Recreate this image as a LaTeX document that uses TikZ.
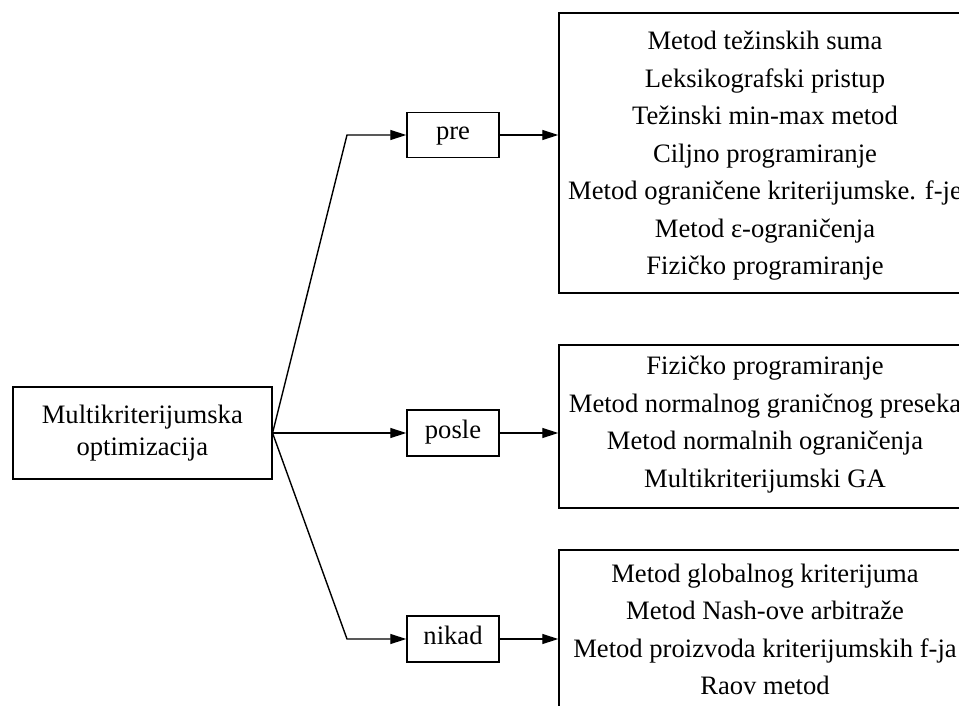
\documentclass[tikz,border=0pt]{standalone}
\usepackage{fontspec}
\setmainfont{Liberation Serif}
\usetikzlibrary{arrows.meta}
\begin{document}
\begin{tikzpicture}[x=1pt,y=-1pt,
  box/.style={draw,line width=1.5pt,inner sep=0pt,anchor=center},
  txt/.style={font=\fontsize{26.6}{37.5}\selectfont,align=center,inner sep=0pt,anchor=center},
  arr/.style={line width=1.4pt,-{Triangle[length=16pt,width=10pt]}}]
\useasboundingbox (0,0) rectangle (959,706);
\clip (0,0) rectangle (959,706);
% left node
\node[box,minimum width=259pt,minimum height=92pt,
      font=\fontsize{26.6}{32.7}\selectfont,align=center] (main) at (142.3,433)
      {Multikriterijumska\\optimizacija};
% middle nodes
\node[box,minimum width=92pt,minimum height=45pt,text depth=6pt,text height=16pt,font=\fontsize{26.6}{32}\selectfont] (pre) at (453,135) {pre};
\node[box,minimum width=92pt,minimum height=46pt,text depth=6pt,text height=16pt,font=\fontsize{26.6}{32}\selectfont] (posle) at (453,433) {posle};
\node[box,minimum width=92pt,minimum height=46pt,text depth=6pt,text height=16pt,font=\fontsize{26.6}{32}\selectfont] (nikad) at (453,639) {nikad};
% right boxes
\node[box,minimum width=412pt,minimum height=280pt] (box1) at (765,153) {};
\node[box,minimum width=412pt,minimum height=163pt] (box2) at (765,426.5) {};
\node[box,minimum width=412pt,minimum height=180pt] (box3) at (765,640) {};
\node[txt] (t1) at (765,156) {Metod težinskih suma\\Leksikografski pristup\\Težinski min-max metod\\Ciljno programiranje\\Metod ograničene kriterijumske. f-je\\Metod ε-ograničenja\\Fizičko programiranje};
\node[txt] (t2) at (765,424.5) {Fizičko programiranje\\Metod normalnog graničnog preseka\\Metod normalnih ograničenja\\Multikriterijumski GA};
\node[txt] (t3) at (765,629.5) {Metod globalnog kriterijuma\\Metod Nash-ove arbitraže\\Metod proizvoda kriterijumskih f-ja\\Raov metod};
% bend points
\coordinate (b1) at (347,135);
\coordinate (b3) at (347,639);
% connectors
\draw[arr] (main.east) -- (b1) -- (pre.west);
\draw[arr] (main.east) -- (posle.west);
\draw[arr] (main.east) -- (b3) -- (nikad.west);
\draw[arr] (pre.east) -- (pre.east -| box1.west);
\draw[arr] (posle.east) -- (posle.east -| box2.west);
\draw[arr] (nikad.east) -- (nikad.east -| box3.west);
\end{tikzpicture}
\end{document}
